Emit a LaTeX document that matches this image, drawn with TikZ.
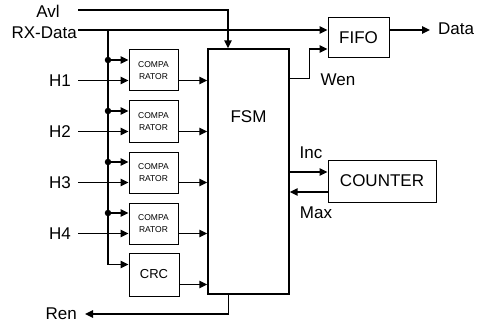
\documentclass[tikz,border=0pt]{standalone}
\usepackage{fontspec}
\setmainfont{Liberation Sans}
\usetikzlibrary{arrows.meta}

\begin{document}
\begin{tikzpicture}[x=1pt, y=-1pt,
        wire/.style={line width=1.4pt},
        sig/.style={line width=1.5pt, -{Triangle[length=8pt,width=7.5pt]}},
        box/.style={draw, line width=1pt, inner sep=0pt},
        lbl/.style={font=\fontsize{17}{18}\selectfont, inner sep=1pt},
        dot/.style={circle, fill, inner sep=0pt, minimum size=6.5pt}]
        \useasboundingbox (0,0) rectangle (481,326);

        % Draw the blocks
        \foreach \i in {1,2,3,4} {
            \pgfmathsetmacro\yc{70.5+51*(\i-1)}
            \node[box, minimum width=49pt, minimum height=41pt, align=center,
                  font=\fontsize{8.5}{12}\selectfont] (cmp\i) at (153.5,\yc) {COMPA\\RATOR};
        }
        \node[box, minimum width=50pt, minimum height=43pt, font=\fontsize{13}{14}\selectfont] (crc) at (154,274.5) {CRC};
        \node[box, line width=1.4pt, minimum width=81pt, minimum height=245pt] (fsm) at (248.5,171.5) {};
        \node[lbl] (fsmtxt) at (248.5,117) {FSM};
        \node[box, lbl, inner sep=0pt, minimum width=61pt, minimum height=40pt] (fifo) at (358.5,38) {FIFO};
        \node[box, lbl, inner sep=0pt, minimum width=108pt, minimum height=42pt] (counter) at (382,181) {COUNTER};

        % Signal names
        \node[lbl] (avl) at (48,11) {Avl};
        \node[lbl, anchor=east] (rx) at (78,33) {RX-Data};
        \node[lbl, anchor=west, inner xsep=8pt] (data) at (430,29) {Data};
        \node[lbl] (wen) at (338,80) {Wen};
        \node[lbl] (inc) at (311,153) {Inc};
        \node[lbl] (max) at (316,213) {Max};
        \node[lbl, anchor=east, inner xsep=8pt] (ren) at (85,314) {Ren};

        % Avl into the FSM
        \coordinate (avlin) at (78,10);
        \coordinate (avlbend) at (228,10);
        \draw[sig] (avlin) -- (avlbend) -- (avlbend |- fsm.north);

        % RX-Data to the FIFO and down the bus
        \draw[sig] ([yshift=3pt]rx.east) -- ([yshift=3pt]rx.east -| fifo.west);
        \coordinate (bus) at (108,30);
        \draw[sig] (bus) |- ([yshift=10pt]crc.west);

        % Comparator inputs and outputs
        \foreach \i in {1,2,3,4} {
            \pgfmathsetmacro\yd{70.5+51*(\i-1)-10.5}
            \pgfmathsetmacro\yh{70.5+51*(\i-1)+10}
            \node[dot] (d\i) at (108,\yd) {};
            \node[lbl, anchor=east, inner xsep=7pt] (h\i) at (78,\yh) {H\i};
            \draw[sig] (d\i.center) -- (d\i.center -| cmp\i.west);
            \draw[sig] (h\i.east) -- (h\i.east -| cmp\i.west);
            \draw[sig] ([yshift=-10pt]cmp\i.east) -- ([yshift=-10pt]cmp\i.east -| fsm.west);
        }
        \draw[sig] ([yshift=-10pt]crc.east) -- ([yshift=-10pt]crc.east -| fsm.west);

        % FSM outputs
        \draw[sig] ([yshift=-30pt]fsm.north east) -- ++(20,0) |- ([yshift=-11pt]fifo.west);
        \draw[sig] ([yshift=8pt]fifo.east) -- ([yshift=8pt]fifo.east -| data.west);
        \draw[sig] ([yshift=9pt]counter.west -| fsm.east) -- ([yshift=9pt]counter.west);
        \draw[sig] ([yshift=-11pt]counter.west) -- ([yshift=-11pt]counter.west -| fsm.east);
        \draw[sig] ([xshift=21pt]fsm.south west) |- (ren.east);
    \end{tikzpicture}
\end{document}
